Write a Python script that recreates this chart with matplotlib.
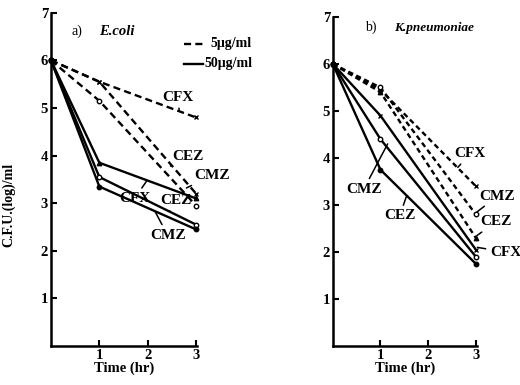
import matplotlib
matplotlib.use("Agg")
import matplotlib.pyplot as plt

plt.rcParams['font.family'] = ['Liberation Serif', 'DejaVu Serif']

# ---------------- data ----------------
time = [0, 1, 3]

# panel a: E.coli
a_cfx_5 = [6.0, 5.55, 4.8]
a_cez_5 = [6.0, 5.15, 2.95]
a_cmz_5 = [6.0, 5.55, 3.2]
a_cfx_50 = [6.0, 3.85, 3.1]
a_cez_50 = [6.0, 3.55, 2.55]
a_cmz_50 = [6.0, 3.35, 2.45]

# panel b: K.pneumoniae
b_cfx_5 = [6.0, 5.45, 3.4]
b_cmz_5 = [6.0, 5.5, 2.8]
b_cez_5 = [6.0, 5.4, 2.3]
b_cfx_50 = [6.0, 4.9, 2.05]
b_cmz_50 = [6.0, 4.4, 1.9]
b_cez_50 = [6.0, 3.75, 1.75]

x_ticks = [1, 2, 3]
y_ticks = [1, 2, 3, 4, 5, 6, 7]

# annotation labels: (text, target xy, text xy)
a_labels = [
    ("CFX", (2.65, 4.95), (2.62, 5.22)),
    ("CEZ", (2.47, 3.78), (2.84, 3.98)),
    ("CMZ", (2.80, 3.32), (3.32, 3.58)),
    ("CFX", (1.98, 3.47), (1.73, 3.10)),
    ("CEZ", (2.45, 2.83), (2.58, 3.06)),
    ("CMZ", (2.15, 2.83), (2.41, 2.33)),
]
b_labels = [
    ("CFX", (2.62, 3.80), (2.88, 4.09)),
    ("CMZ", (3.02, 2.85), (3.45, 3.19)),
    ("CEZ", (3.02, 2.35), (3.42, 2.64)),
    ("CFX", (3.03, 2.10), (3.62, 2.00)),
    ("CMZ", (1.15, 4.30), (0.65, 3.34)),
    ("CEZ", (1.55, 3.20), (1.40, 2.77)),
]

fig = plt.figure(figsize=(5.2, 3.85), dpi=100)
axA = fig.add_axes([0.098, 0.101, 0.281, 0.866])
axB = fig.add_axes([0.640, 0.101, 0.277, 0.855])

dash = (0, (3.0, 1.8))
dashB = (0, (2.2, 1.5))
lw = 1.7
ms = 3.2

def style(ax):
    ax.set_xlim(0, 3.02)
    ax.set_ylim(0, 7)
    for s in ("top", "right"):
        ax.spines[s].set_visible(False)
    for s in ("left", "bottom"):
        ax.spines[s].set_linewidth(1.8)
    ax.set_xticks(x_ticks)
    ax.set_yticks(y_ticks)
    ax.tick_params(direction="in", length=4, width=1.5, labelsize=10.5, pad=2)
    for t in ax.get_xticklabels() + ax.get_yticklabels():
        t.set_fontweight("bold")
    ax.set_xlabel("Time (hr)", fontsize=10.5, fontweight="bold", labelpad=0)

def series(ax, y, ls, marker, fill):
    ax.plot(time, y, color="black", linestyle=ls, linewidth=lw, marker=marker,
            markersize=ms, markerfacecolor=("black" if fill else "white"),
            markeredgecolor="black", markeredgewidth=1.0, clip_on=False)

def labels(ax, items):
    for txt, xy, xyt in items:
        ax.annotate(txt, xy=xy, xytext=xyt, ha="center", va="center",
                    fontsize=11, fontweight="bold", annotation_clip=False,
                    arrowprops=dict(arrowstyle="-", color="black", lw=1.1,
                                    shrinkA=1, shrinkB=0))

# panel a
series(axA, a_cfx_5, dash, "x", True)
series(axA, a_cez_5, dash, "o", False)
series(axA, a_cmz_5, dash, "x", True)
series(axA, a_cfx_50, "-", "^", True)
series(axA, a_cez_50, "-", "o", False)
series(axA, a_cmz_50, "-", "o", True)
style(axA)
labels(axA, a_labels)
axA.text(0.42, 6.6, "a)", fontsize=10, ha="left", va="center")
axA.text(1.0, 6.6, "E.coli", fontsize=10.5, fontweight="bold", style="italic",
         ha="left", va="center")
# legend
axA.plot([2.75, 3.18], [6.35, 6.35], color="black", linestyle=dash, lw=lw, clip_on=False)
axA.text(3.3, 6.35, "5μg/ml", fontsize=10, fontweight="bold", va="center",
         ha="left", clip_on=False, family=["Liberation Serif", "DejaVu Serif"])
axA.plot([2.75, 3.15], [5.93, 5.93], color="black", linestyle="-", lw=lw, clip_on=False)
axA.text(3.17, 5.93, "50μg/ml", fontsize=10, fontweight="bold", va="center",
         ha="left", clip_on=False, family=["Liberation Serif", "DejaVu Serif"])

# panel b
series(axB, b_cfx_5, dashB, "x", True)
series(axB, b_cmz_5, dashB, "o", False)
series(axB, b_cez_5, dashB, "^", True)
series(axB, b_cfx_50, "-", "x", True)
series(axB, b_cmz_50, "-", "o", False)
series(axB, b_cez_50, "-", "o", True)
style(axB)
labels(axB, b_labels)
axB.text(0.68, 6.77, "b)", fontsize=10, ha="left", va="center")
axB.text(1.28, 6.77, "K.pneumoniae", fontsize=9.5, fontweight="bold",
         style="italic", ha="left", va="center")

fig.text(9 / 520, 1 - 205 / 385, "C.F.U.(log)/ml", rotation=90, fontsize=10,
         fontweight="bold", ha="center", va="center")

fig.savefig("out.png", dpi=100, facecolor="white")
